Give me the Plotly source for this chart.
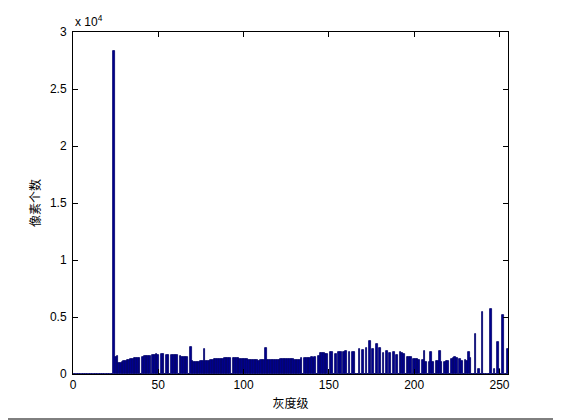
import plotly.graph_objects as go

# Gray levels 0..255 and pixel counts
gray_levels = list(range(256))
pixel_counts = [
    0, 0, 0, 0, 0, 0, 0, 0, 0, 0, 0, 0, 0, 0, 0, 0,
    0, 0, 0, 0, 0, 0, 0, 0, 28300, 1500, 1600, 1000, 980, 1020, 1120, 1160,
    1230, 1250, 1280, 1350, 1380, 1370, 1400, 1390, 0, 1520, 1560, 1550, 1580, 1600, 0, 1680,
    1700, 1720, 1700, 0, 1740, 1720, 0, 1710, 1690, 0, 1680, 1660, 1650, 1640, 0, 1560,
    1520, 1500, 1480, 1460, 0, 2350, 1100, 1080, 1070, 1090, 1080, 1100, 1120, 2150, 1150, 1160,
    1180, 1200, 1260, 1280, 1300, 1310, 1300, 1320, 1350, 1370, 1380, 1390, 1380, 0, 1400, 1420,
    1410, 1380, 1340, 1320, 1310, 1300, 1280, 1260, 1230, 1220, 1200, 1190, 1200, 1180, 1190, 1200,
    1190, 2280, 1200, 1210, 1220, 1230, 1240, 1230, 1250, 1260, 1280, 1300, 1310, 1320, 1330, 1320,
    1310, 1300, 1260, 1230, 1220, 1200, 1380, 0, 1420, 1430, 1440, 1430, 1450, 1440, 1460, 0,
    1600, 1850, 1860, 1840, 1760, 1770, 0, 1900, 1890, 0, 1760, 0, 1930, 1920, 0, 1940,
    2000, 0, 1930, 0, 1940, 1920, 0, 0, 2200, 0, 2080, 0, 2280, 0, 2900, 0,
    2170, 0, 2640, 0, 2250, 0, 1880, 0, 2000, 0, 1880, 0, 1900, 0, 1700, 0,
    1900, 1880, 1730, 0, 1500, 1470, 1450, 0, 1320, 1300, 1280, 1240, 0, 1230, 2000, 1060,
    0, 1040, 1960, 1030, 0, 1170, 1160, 2000, 1080, 0, 1090, 1100, 1170, 0, 1320, 1440,
    1450, 1430, 0, 1300, 1180, 0, 1230, 1170, 1900, 1400, 0, 0, 3500, 0, 440, 0,
    5400, 0, 0, 0, 0, 5700, 0, 440, 0, 2800, 440, 0, 5200, 0, 0, 2200,
]

x_tick_vals = [0, 50, 100, 150, 200, 250]
y_tick_vals = [0, 5000, 10000, 15000, 20000, 25000, 30000]
y_tick_text = ["0", "0.5", "1", "1.5", "2", "2.5", "3"]

x_title = "灰度级"
y_title = "像素个数"

# The page body adds an 8px offset; the figure is shrunk by that amount so it
# fits the 561x420 window, and margins place the axes where the reference has them.
OFF = 8
WIN_W, WIN_H = 561, 420
W, H = WIN_W - OFF, WIN_H - OFF
ML, MT = 73 - OFF, 32 - OFF
PW, PH = 435, 342
MR = W - ML - PW
MB = H - MT - PH

fig = go.Figure(
    go.Bar(
        x=gray_levels,
        y=pixel_counts,
        width=1.0,
        marker=dict(color="#00008F", line=dict(color="#00006A", width=0.8)),
        hoverinfo="x+y",
    )
)

tick_font = dict(family="Liberation Sans, Arial, sans-serif", size=12, color="black")
cjk_font = dict(family="Noto Sans CJK SC, sans-serif", size=12, color="black")


def div_to_paper_x(d):
    return (d - ML) / PW


def div_to_paper_y(d):
    return (MT + PH - d) / PH


fig.update_layout(
    width=W,
    height=H,
    margin=dict(l=ML, r=MR, t=MT, b=MB, pad=0),
    paper_bgcolor="white",
    plot_bgcolor="white",
    showlegend=False,
    bargap=0,
    xaxis=dict(
        range=[0, 255],
        tickvals=x_tick_vals,
        ticks="inside",
        ticklen=5,
        tickcolor="black",
        showline=True,
        linecolor="black",
        linewidth=1,
        mirror="ticks",
        showgrid=False,
        zeroline=False,
        tickfont=tick_font,
        title=dict(text=x_title, font=cjk_font, standoff=8),
        automargin=False,
    ),
    yaxis=dict(
        range=[0, 30000],
        tickvals=y_tick_vals,
        ticktext=y_tick_text,
        ticks="inside",
        ticklen=5,
        tickcolor="black",
        showline=True,
        linecolor="black",
        linewidth=1,
        mirror="ticks",
        showgrid=False,
        zeroline=False,
        tickfont=tick_font,
        ticklabelstandoff=3,
        title=dict(text=y_title, font=cjk_font, standoff=6),
        automargin=False,
    ),
    annotations=[
        dict(
            text="x 10<sup>4</sup>",
            xref="paper", yref="paper",
            x=0, y=1,
            xanchor="left", yanchor="bottom",
            showarrow=False,
            font=tick_font,
            yshift=1,
        )
    ],
    shapes=[
        # right and bottom edges of the picture frame
        dict(
            type="line",
            xref="paper", yref="paper",
            x0=div_to_paper_x(W - 1.5), x1=div_to_paper_x(W - 1.5),
            y0=div_to_paper_y(0), y1=div_to_paper_y(H),
            line=dict(color="black", width=1),
        ),
        dict(
            type="line",
            xref="paper", yref="paper",
            x0=div_to_paper_x(0), x1=div_to_paper_x(W),
            y0=div_to_paper_y(H - 1), y1=div_to_paper_y(H - 1),
            line=dict(color="black", width=1),
        ),
    ],
)

fig.write_html("out.html")
